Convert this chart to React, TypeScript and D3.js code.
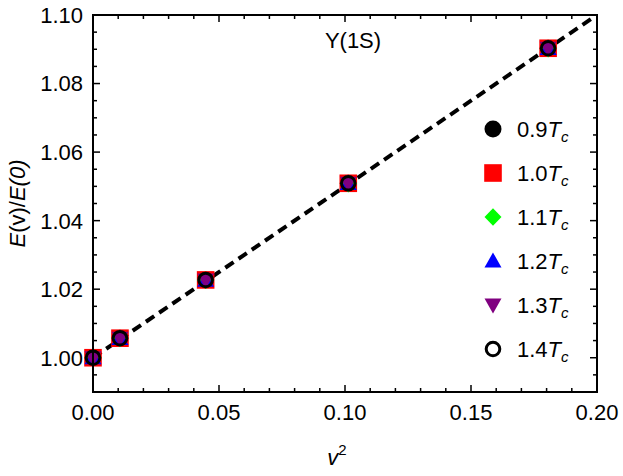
import { useMemo } from 'react';
import * as d3 from 'd3';

// v^2 values of the five points
const vSquared = [0, 0.0107, 0.0447, 0.1013, 0.1806];

// E(v)/E(0) for each temperature (they overlap in the plot)
const ratio09 = [1.0, 1.0057, 1.0227, 1.0509, 1.0903];
const ratio10 = [1.0, 1.0057, 1.0227, 1.0509, 1.0903];
const ratio11 = [1.0, 1.0056, 1.0226, 1.0508, 1.0902];
const ratio12 = [1.0, 1.0056, 1.0226, 1.0508, 1.0902];
const ratio13 = [1.0, 1.0057, 1.0227, 1.0509, 1.0903];
const ratio14 = [1.0, 1.0057, 1.0227, 1.0509, 1.0903];

const seriesLabels = ['0.9', '1.0', '1.1', '1.2', '1.3', '1.4'];

// dashed guide line
const fitV = [0, 0.2];
const fitRatio = [1.0, 1.1];

const xTicks = [0, 0.05, 0.1, 0.15, 0.2];
const yTicks = [1.0, 1.02, 1.04, 1.06, 1.08, 1.1];

const W = 623;
const H = 476;
const margin = { top: 15, right: 26, bottom: 84, left: 93 };
const FONT = '"Liberation Sans", Arial, sans-serif';
const FS = 22;

type Shape = 'circle' | 'square' | 'diamond' | 'triangle' | 'triangleDown' | 'open';

const styles: { shape: Shape; color: string }[] = [
  { shape: 'circle', color: '#000000' },
  { shape: 'square', color: '#ff0000' },
  { shape: 'diamond', color: '#00ff00' },
  { shape: 'triangle', color: '#0000ff' },
  { shape: 'triangleDown', color: '#800080' },
  { shape: 'open', color: '#000000' },
];

function Marker({ shape, color, x, y }: { shape: Shape; color: string; x: number; y: number }) {
  const t = `translate(${x},${y})`;
  if (shape === 'circle') return <circle cx={x} cy={y} r={8.5} fill={color} />;
  if (shape === 'open')
    return <circle cx={x} cy={y} r={6.8} fill="none" stroke={color} strokeWidth={3} />;
  if (shape === 'square') return <rect x={x - 8.8} y={y - 8.8} width={17.6} height={17.6} fill={color} />;
  if (shape === 'diamond')
    return <path transform={t} d="M0,-8.8L8.5,0L0,8.8L-8.5,0Z" fill={color} />;
  if (shape === 'triangle')
    return <path transform={t} d="M0,-8.5L8.5,6.5L-8.5,6.5Z" fill={color} />;
  return <path transform={t} d="M0,8.5L8.5,-6.5L-8.5,-6.5Z" fill={color} />;
}

export default function App() {
  const iw = W - margin.left - margin.right;
  const ih = H - margin.top - margin.bottom;

  const x = useMemo(() => d3.scaleLinear().domain([0, 0.2]).range([0, iw]), [iw]);
  const y = useMemo(() => d3.scaleLinear().domain([0.99, 1.1]).range([ih, 0]), [ih]);

  const series = [ratio09, ratio10, ratio11, ratio12, ratio13, ratio14];

  const line = d3
    .line<number>()
    .x((_, i) => x(fitV[i]))
    .y((d) => y(d));

  const xMinor = d3.range(0, 0.2001, 0.01);
  const yMinor = d3.range(0.99, 1.1001, 0.005);

  const isMajor = (v: number, list: number[]) => list.some((t) => Math.abs(t - v) < 1e-6);

  return (
    <svg
      width={W}
      height={H}
      style={{ position: 'absolute', left: 0, top: 0, background: '#fff' }}
      fontFamily={FONT}
    >
      <defs>
        <clipPath id="plot-clip">
          <rect x={0} y={0} width={iw} height={ih} />
        </clipPath>
      </defs>
      <g transform={`translate(${margin.left},${margin.top})`}>
        {/* ticks, inward on all four sides */}
        {xMinor.map((v) => {
          const len = isMajor(v, xTicks) ? 7 : 4;
          return (
            <g key={'xt' + v} stroke="#000" strokeWidth={1.5}>
              <line x1={x(v)} x2={x(v)} y1={ih} y2={ih - len} />
              <line x1={x(v)} x2={x(v)} y1={0} y2={len} />
            </g>
          );
        })}
        {yMinor.map((v) => {
          const len = isMajor(v, yTicks) ? 7 : 4;
          return (
            <g key={'yt' + v} stroke="#000" strokeWidth={1.5}>
              <line x1={0} x2={len} y1={y(v)} y2={y(v)} />
              <line x1={iw} x2={iw - len} y1={y(v)} y2={y(v)} />
            </g>
          );
        })}

        {/* tick labels */}
        {xTicks.map((v) => (
          <text key={'xl' + v} x={x(v)} y={ih + 28} fontSize={FS} textAnchor="middle">
            {d3.format('.2f')(v)}
          </text>
        ))}
        {yTicks.map((v) => (
          <text key={'yl' + v} x={-10} y={y(v)} dy="0.36em" fontSize={FS} textAnchor="end">
            {d3.format('.2f')(v)}
          </text>
        ))}

        {/* dashed line */}
        <path
          d={line(fitRatio) || ''}
          fill="none"
          stroke="#000"
          strokeWidth={4}
          strokeDasharray="10,6"
          clipPath="url(#plot-clip)"
        />

        {/* data points */}
        {series.map((vals, si) =>
          vals.map((r, i) => (
            <Marker
              key={`p${si}-${i}`}
              shape={styles[si].shape}
              color={styles[si].color}
              x={x(vSquared[i])}
              y={y(r)}
            />
          ))
        )}

        {/* frame */}
        <rect x={0} y={0} width={iw} height={ih} fill="none" stroke="#000" strokeWidth={2} />

        {/* annotation */}
        <text x={260} y={33} fontSize={FS} textAnchor="middle">
          Υ(1S)
        </text>

        {/* legend */}
        {seriesLabels.map((lab, i) => {
          const ly = 114 + i * 44;
          return (
            <g key={'lg' + i}>
              <Marker shape={styles[i].shape} color={styles[i].color} x={400} y={ly} />
              <text x={424} y={ly} dy="0.36em" fontSize={FS}>
                {lab}
                <tspan fontStyle="italic">T</tspan>
                <tspan fontStyle="italic" fontSize={15} dy={5}>
                  c
                </tspan>
              </text>
            </g>
          );
        })}
      </g>

      {/* axis titles */}
      <text x={337} y={465} fontSize={FS} textAnchor="middle">
        <tspan fontStyle="italic">v</tspan>
        <tspan fontSize={15} dy={-10}>
          2
        </tspan>
      </text>
      <text transform={`translate(25,${margin.top + ih / 2}) rotate(-90)`} fontSize={FS} textAnchor="middle">
        <tspan fontStyle="italic">E</tspan>
        <tspan>(v)/</tspan>
        <tspan fontStyle="italic">E</tspan>
        <tspan fontStyle="italic">(0)</tspan>
      </text>
    </svg>
  );
}
